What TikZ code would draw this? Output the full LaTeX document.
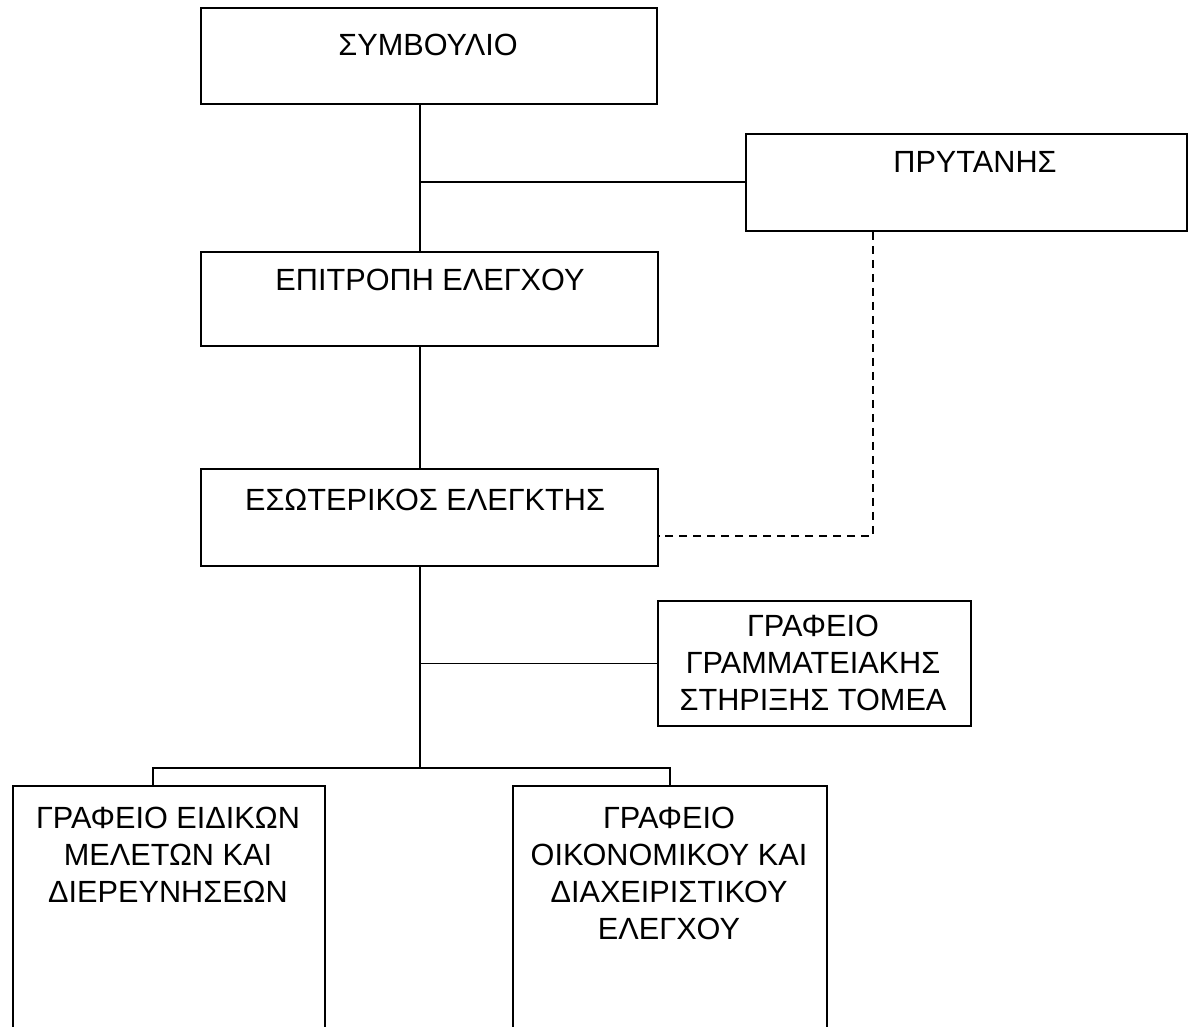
\documentclass[tikz,border=0pt]{standalone}
\usepackage{fontspec}
\setmainfont{Liberation Sans}

\begin{document}
\begin{tikzpicture}[x=0.75pt,y=0.75pt,yscale=-1,xscale=1,
	orgbox/.style={draw, line width=1.4pt, anchor=north west, inner sep=0pt},
	orgtext/.style={inner sep=0.75pt, align=center, font=\fontsize{23}{27.75}\selectfont},
	link/.style={line width=1.4pt},
	dashlink/.style={line width=1.4pt, dash pattern=on 6pt off 4.5pt}]
	\useasboundingbox (0,0) rectangle (1189,1027);
	\clip (0,0) rectangle (1189,1027);

	% Text Node
	\node[orgbox, minimum width=342pt, minimum height=72pt] (symv) at (200,7) {};
	\node[orgtext] (symvtxt) at (428,45) {ΣΥΜΒΟΥΛΙΟ};
	% Text Node
	\node[orgbox, minimum width=330.75pt, minimum height=72.75pt] (pryt) at (745,133) {};
	\node[orgtext] (pryttxt) at (975,162) {ΠΡΥΤΑΝΗΣ};
	% Text Node
	\node[orgbox, minimum width=342.75pt, minimum height=70.5pt] (epit) at (200,251) {};
	\node[orgtext] (epittxt) at (430,280) {ΕΠΙΤΡΟΠΗ ΕΛΕΓΧΟΥ};
	% Text Node
	\node[orgbox, minimum width=342.75pt, minimum height=72.75pt] (eso) at (200,468) {};
	\node[orgtext] (esotxt) at (425,500) {ΕΣΩΤΕΡΙΚΟΣ ΕΛΕΓΚΤΗΣ};
	% Text Node
	\node[orgbox, minimum width=234.75pt, minimum height=93.75pt] (gram) at (657,600) {};
	\node[orgtext] (gramtxt) at (813,663) {ΓΡΑΦΕΙΟ\\ΓΡΑΜΜΑΤΕΙΑΚΗΣ\\ΣΤΗΡΙΞΗΣ ΤΟΜΕΑ};
	% Text Node
	\node[orgbox, minimum width=234pt, minimum height=191.25pt] (eidik) at (12,785) {};
	\node[orgtext] (eidiktxt) at (168,855) {ΓΡΑΦΕΙΟ ΕΙΔΙΚΩΝ\\ΜΕΛΕΤΩΝ ΚΑΙ\\ΔΙΕΡΕΥΝΗΣΕΩΝ};
	% Text Node
	\node[orgbox, minimum width=235.5pt, minimum height=191.25pt] (oikon) at (512,785) {};
	\node[orgtext] (oikontxt) at (669,873) {ΓΡΑΦΕΙΟ\\ΟΙΚΟΝΟΜΙΚΟΥ ΚΑΙ\\ΔΙΑΧΕΙΡΙΣΤΙΚΟΥ\\ΕΛΕΓΧΟΥ};

	\coordinate (spine) at (420,0);
	\coordinate (bend) at (873,536);
	\coordinate (forkl) at (153,768);
	\coordinate (forkr) at (670,768);

	% Connection
	\draw[link] (symv.south -| spine) -- (epit.north -| spine);
	% Connection
	\draw[link] (pryt.west) -- (pryt.west -| spine);
	% Connection
	\draw[link] (epit.south -| spine) -- (eso.north -| spine);
	% Connection
	\draw[dashlink] (pryt.south -| bend) -- (bend) -- (eso.east |- bend);
	% Connection
	\draw[link] (eso.south -| spine) -- (forkl -| spine);
	% Connection
	\draw[link] (gram.west) -- (gram.west -| spine);
	% Connection
	\draw[link] (eidik.north -| forkl) -- (forkl) -- (forkr) -- (oikon.north -| forkr);

\end{tikzpicture}
\end{document}
